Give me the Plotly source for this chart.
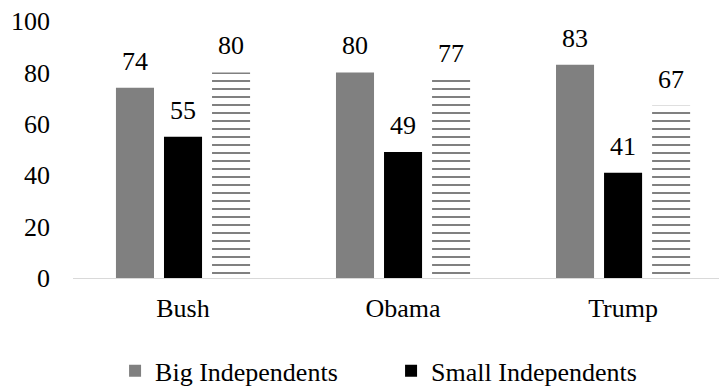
import plotly.graph_objects as go

presidents = ["Bush", "Obama", "Trump"]
big_independents = [74, 80, 83]
small_independents = [55, 49, 41]
series_three = [80, 77, 67]
y_ticks = [0, 20, 40, 60, 80, 100]

FONT = "Times New Roman, Liberation Serif, DejaVu Serif, serif"
FS = 26

fig = go.Figure()
fig.add_trace(go.Bar(x=presidents, y=big_independents, name="Big Independents",
                     marker=dict(color="#808080", line=dict(width=0))))
fig.add_trace(go.Bar(x=presidents, y=small_independents, name="Small Independents",
                     marker=dict(color="#000000", line=dict(width=0))))
fig.add_trace(go.Bar(x=presidents, y=series_three, name="Series 3", showlegend=False,
                     marker=dict(color="white", line=dict(width=0),
                                 pattern=dict(shape="-", size=8, solidity=0.25,
                                              fgcolor="#808080", fgopacity=1,
                                              bgcolor="white", fillmode="overlay"))))

# value labels above each bar
offsets = [-48, 0, 48]
for series, dx in zip([big_independents, small_independents, series_three], offsets):
    for cat, val in zip(presidents, series):
        fig.add_annotation(x=cat, y=val, text=str(val), showarrow=False,
                           xshift=dx, yshift=10, yanchor="bottom",
                           font=dict(family=FONT, size=FS, color="#000000"))

fig.update_layout(
    width=719, height=388,
    margin=dict(l=73, r=0, t=21, b=110),
    paper_bgcolor="white", plot_bgcolor="white",
    barmode="group", bargap=0.345, bargroupgap=0.208,
    font=dict(family=FONT, size=FS, color="#000000"),
    showlegend=True,
    legend=dict(orientation="h", xref="container", x=0.5439, xanchor="center",
                yref="container", y=0.044, yanchor="middle",
                font=dict(family=FONT, size=FS), entrywidth=231,
                itemclick=False),
)
fig.update_xaxes(range=[-0.5, 2.436], showline=True, linecolor="#d9d9d9", linewidth=1,
                 showgrid=False, ticks="", ticklabelstandoff=7,
                 tickfont=dict(family=FONT, size=FS))
fig.update_yaxes(range=[0, 100], tickvals=y_ticks, showgrid=False, zeroline=False,
                 showline=False, ticks="", ticklabelstandoff=22,
                 tickfont=dict(family=FONT, size=FS))

fig.write_html("out.html")
